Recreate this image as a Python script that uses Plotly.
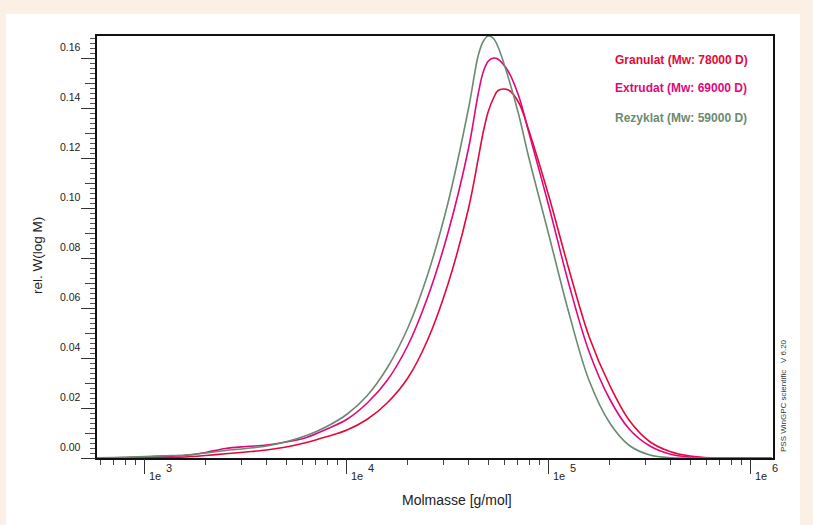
import plotly.graph_objects as go

# ---------------- data ----------------
molmasse = [575, 800, 1000, 1260, 1580, 2000, 2500, 3160, 4000, 5000, 6300, 7900,
            10000, 12600, 15800, 20000, 25000, 31600, 40000, 44700, 47300, 50000,
            53100, 56000, 63000, 71000, 79000, 100000, 126000, 158000, 200000,
            250000, 316000, 400000, 500000, 630000, 1000000, 1270000]

granulat = [0.0000, 0.0001, 0.0001, 0.0002, 0.0004, 0.0010, 0.0017, 0.0024, 0.0032,
            0.0044, 0.0062, 0.0085, 0.0112, 0.0155, 0.0220, 0.0320, 0.0470, 0.0695,
            0.1000, 0.1200, 0.1305, 0.1385, 0.1439, 0.1470, 0.1472, 0.1420, 0.1316,
            0.1045, 0.0750, 0.0485, 0.0290, 0.0150, 0.0065, 0.0025, 0.0008, 0.0001,
            0.0, 0.0]

extrudat = [0.0001, 0.0002, 0.0004, 0.0007, 0.0010, 0.0022, 0.0038, 0.0046, 0.0052,
            0.0064, 0.0082, 0.0115, 0.0155, 0.0220, 0.0310, 0.0450, 0.0640, 0.0900,
            0.1240, 0.1460, 0.1545, 0.1587, 0.1600, 0.1595, 0.1545, 0.1445, 0.1310,
            0.1005, 0.0690, 0.0425, 0.0235, 0.0115, 0.0048, 0.0015, 0.0004, 0.0,
            0.0, 0.0]

rezyklat = [0.0001, 0.0003, 0.0006, 0.0009, 0.0012, 0.0020, 0.0030, 0.0038, 0.0048,
            0.0065, 0.0090, 0.0125, 0.0175, 0.0250, 0.0360, 0.0520, 0.0730, 0.1020,
            0.1400, 0.1612, 0.1667, 0.1688, 0.1678, 0.1644, 0.1520, 0.1370, 0.1210,
            0.0890, 0.0575, 0.0310, 0.0140, 0.0050, 0.0012, 0.0001, 0.0, 0.0, 0.0, 0.0]

series_names = ["Granulat", "Extrudat", "Rezyklat"]
series_mw = [78000, 69000, 59000]
series_values = [granulat, extrudat, rezyklat]
series_colors = ["#e3093b", "#e0087c", "#6b8a71"]

y_tick_values = [0.00, 0.02, 0.04, 0.06, 0.08, 0.10, 0.12, 0.14, 0.16]
y_tick_labels = ["0.00", "0.02", "0.04", "0.06", "0.08", "0.10", "0.12", "0.14", "0.16"]
x_decades = [3, 4, 5, 6]
x_decade_labels = ["1e", "1e", "1e", "1e"]
x_exponent_labels = ["3", "4", "5", "6"]

x_title = "Molmasse [g/mol]"
y_title = "rel. W(log M)"
software_note = "PSS WinGPC scientific   V 6.20"

# ---------------- figure ----------------
FONT = "Arial, Liberation Sans, sans-serif"
AXC = "#222222"
X_RANGE = [2.7624, 6.109]
Y_RANGE = [0, 0.1688]

fig = go.Figure()
for name, vals, col in zip(series_names, series_values, series_colors):
    fig.add_trace(go.Scatter(x=molmasse, y=vals, mode="lines", name=name,
                             line=dict(color=col, width=1.6, shape="spline", smoothing=1.0),
                             showlegend=False))

minor_x = [m * 10 ** e for e in range(2, 7) for m in range(2, 10)]

fig.update_layout(
    width=813, height=525,
    margin=dict(l=97, r=40, t=36, b=67),
    paper_bgcolor="#fcefe3",
    plot_bgcolor="white",
    font=dict(family=FONT, color=AXC, size=11),
    xaxis=dict(type="log", range=X_RANGE, tickvals=minor_x, ticks="outside",
               ticklen=5, tickwidth=1, tickcolor="#444", showticklabels=False,
               showgrid=False, zeroline=False, showline=True, linecolor="#111",
               linewidth=1.5, mirror=True, layer="below traces"),
    xaxis2=dict(type="log", range=X_RANGE, overlaying="x", anchor="y",
                tickvals=[10 ** d for d in x_decades], ticks="outside", ticklen=15,
                tickwidth=1, tickcolor="#333", showticklabels=False, showgrid=False,
                zeroline=False, showline=False, side="bottom"),
    yaxis=dict(range=Y_RANGE, dtick=0.01, tick0=0, ticks="outside", ticklen=10,
               tickwidth=1, tickcolor="#444", showticklabels=False, showgrid=False,
               zeroline=False, showline=True, linecolor="#111", linewidth=1.5,
               mirror=True, layer="below traces",
               minor=dict(dtick=0.002, tick0=0, ticks="outside", ticklen=5,
                          tickcolor="#555", tickwidth=1, showgrid=False)),
    yaxis2=dict(range=Y_RANGE, overlaying="y", anchor="x", side="left",
                tickvals=y_tick_values, ticks="outside", ticklen=15, tickwidth=1,
                tickcolor="#333", showticklabels=False, showgrid=False,
                zeroline=False, showline=False),
)

# invisible trace so the overlay axes are drawn
fig.add_trace(go.Scatter(x=[1000], y=[0], xaxis="x2", yaxis="y2", mode="markers",
                         marker=dict(opacity=0), showlegend=False, hoverinfo="skip"))

# white panel behind the chart
fig.add_shape(type="rect", xref="paper", yref="paper",
              x0=(6 - 97) / 676, x1=(800 - 97) / 676,
              y0=(458 - 530) / 422, y1=(458 - 14) / 422,
              fillcolor="white", line=dict(width=0), layer="below")

ann = []
# y tick labels (drawn slightly above their ticks)
for v, lab in zip(y_tick_values, y_tick_labels):
    ann.append(dict(text=lab, xref="paper", yref="y", x=0, y=v, xanchor="right",
                    yanchor="middle", xshift=-14, yshift=11, showarrow=False,
                    font=dict(size=10.5, family=FONT, color=AXC)))
# x decade labels
for d, base, ex in zip(x_decades, x_decade_labels, x_exponent_labels):
    ann.append(dict(text=base, xref="x", yref="paper", x=d, y=0, xanchor="left",
                    yanchor="middle", xshift=2, yshift=-18, showarrow=False,
                    font=dict(size=11, family=FONT, color=AXC)))
    ann.append(dict(text=ex, xref="x", yref="paper", x=d, y=0, xanchor="left",
                    yanchor="middle", xshift=19, yshift=-10, showarrow=False,
                    font=dict(size=11, family=FONT, color=AXC)))
# axis titles
ann.append(dict(text=x_title, xref="paper", yref="paper", x=(456.5 - 97) / 676, y=0,
                xanchor="center", yanchor="middle", yshift=-42, showarrow=False,
                font=dict(size=14, family=FONT, color=AXC)))
ann.append(dict(text=y_title, xref="paper", yref="paper", x=0, y=(458 - 256) / 422,
                xanchor="center", yanchor="middle", xshift=-60, textangle=-90,
                showarrow=False, font=dict(size=13.5, family=FONT, color=AXC)))
# legend-like labels
legend_y = [60, 88, 118]
for name, mw, col, py in zip(series_names, series_mw, series_colors, legend_y):
    ann.append(dict(text=f"<b>{name} (Mw: {mw} D)</b>", xref="paper", yref="paper",
                    x=(613 - 97) / 676, y=(458 - py) / 422, xanchor="left",
                    yanchor="middle", showarrow=False,
                    font=dict(size=12, family=FONT, color=col)))
# software note
ann.append(dict(text=software_note, xref="paper", yref="paper", x=1, y=(458 - 396) / 422,
                xanchor="center", yanchor="middle", xshift=10, textangle=-90,
                showarrow=False, font=dict(size=8, family=FONT, color="#333")))

fig.update_layout(annotations=ann)
fig.write_html("out.html", config={"displayModeBar": False},
               post_script="document.body.style.margin='0';document.body.style.overflow='hidden';")
